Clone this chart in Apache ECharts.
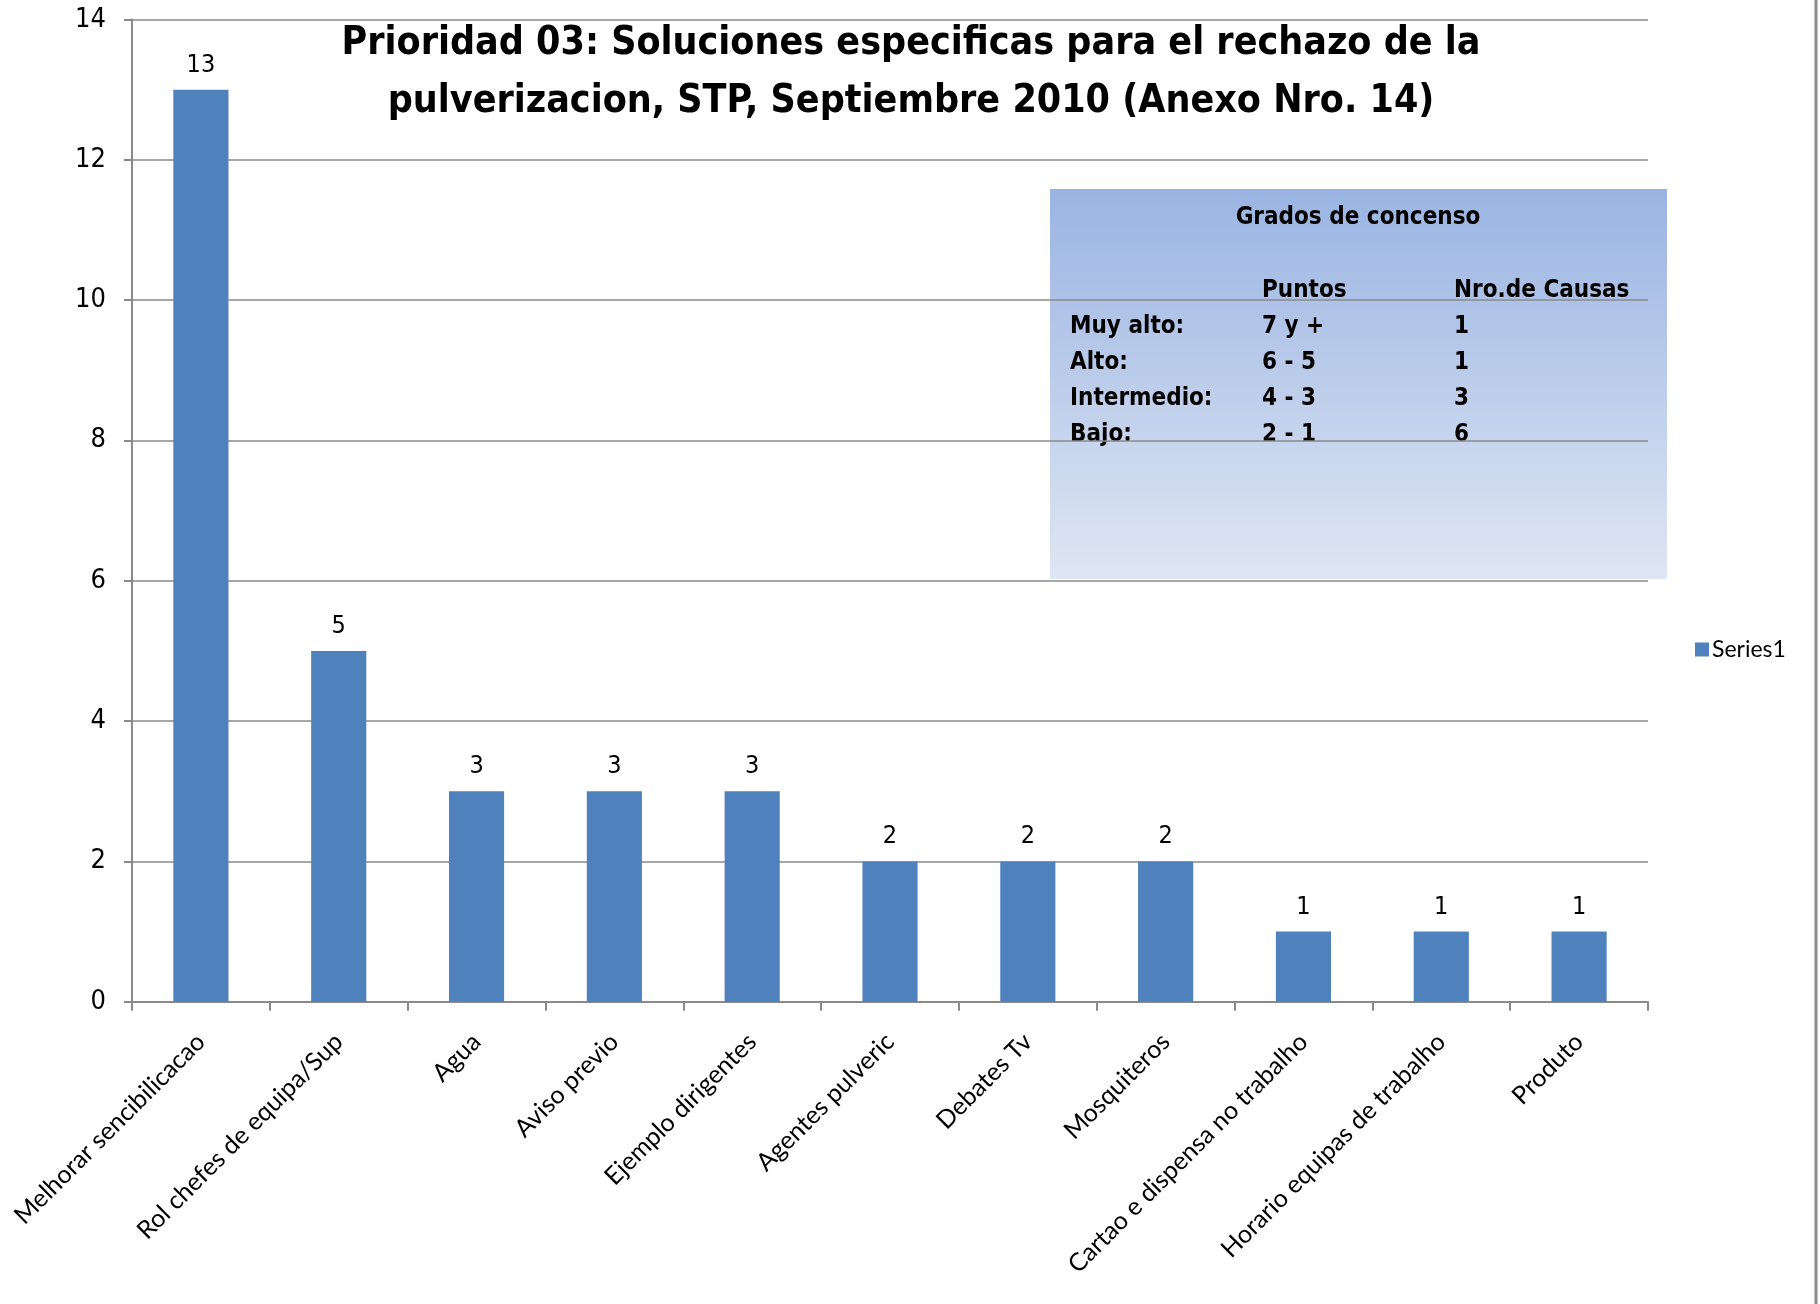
<!DOCTYPE html>
<html>
<head>
<meta charset="utf-8">
<script src="https://cdn.jsdelivr.net/npm/echarts@6/dist/echarts.min.js"></script>
<style>
  html, body { margin: 0; padding: 0; background: #fff; }
  #chart { width: 1820px; height: 1304px; }
</style>
</head>
<body>
<div id="chart"></div>
<script>
// Soluciones y puntos obtenidos
const categories = [
  'Melhorar sencibilicacao', 'Rol chefes de equipa/Sup', 'Agua', 'Aviso previo',
  'Ejemplo dirigentes', 'Agentes pulveric', 'Debates Tv', 'Mosquiteros',
  'Cartao e dispensa no trabalho', 'Horario equipas de trabalho', 'Produto'
];
const values = [13, 5, 3, 3, 3, 2, 2, 2, 1, 1, 1];
const seriesName = 'Series1';

const titleLines = [
  'Prioridad 03: Soluciones especificas para el rechazo de la',
  'pulverizacion, STP, Septiembre 2010 (Anexo Nro. 14)'
];

// Tabla de grados de concenso
const boxTitle = 'Grados de concenso';
const boxHeaders = ['Puntos', 'Nro.de Causas'];
const levels = ['Muy alto:', 'Alto:', 'Intermedio:', 'Bajo:'];
const points = ['7 y +', '6 - 5', '4 - 3', '2 - 1'];
const causes = ['1', '1', '3', '6'];

const narrow = "'Liberation Sans Narrow', 'DejaVu Sans Condensed', sans-serif";
const body = "Lato, 'Open Sans', sans-serif";
const grey = '#8a8a8a';

const boxX = 1050, boxY = 189, boxW = 617, boxH = 390;
const colX = [1070, 1262, 1454];
const rowY0 = 327, rowStep = 36;
const boxFont = 'bold 24px ' + narrow;

const boxTexts = [];
boxTexts.push({ type: 'text', style: { text: boxTitle, x: 1358, y: 218, align: 'center', verticalAlign: 'middle',
  font: boxFont, fill: '#000' } });
boxHeaders.forEach((h, i) => boxTexts.push({ type: 'text', style: { text: h, x: colX[i + 1], y: rowY0 - rowStep,
  verticalAlign: 'middle', font: boxFont, fill: '#000' } }));
levels.forEach((lv, r) => {
  [lv, points[r], causes[r]].forEach((t, c) => boxTexts.push({ type: 'text', style: { text: t, x: colX[c],
    y: rowY0 + r * rowStep, verticalAlign: 'middle', font: boxFont, fill: '#000' } }));
});

const chart = echarts.init(document.getElementById('chart'));
chart.setOption({
  animation: false,
  backgroundColor: '#fff',
  title: {
    text: titleLines.join('\n'),
    left: 906, top: 10, textAlign: 'center',
    textStyle: { fontFamily: narrow, fontWeight: 'bold', fontSize: 39, lineHeight: 58, color: '#000' }
  },
  legend: {
    data: [seriesName], orient: 'vertical', left: 1690, top: 633,
    itemWidth: 14, itemHeight: 14, itemGap: 4,
    icon: 'rect',
    textStyle: { fontFamily: body, fontSize: 23, color: '#000', padding: [0, 0, 0, -2] }
  },
  grid: { left: 132, right: 172, top: 19.5, bottom: 302.3, containLabel: false },
  xAxis: {
    type: 'category', data: categories,
    axisLine: { lineStyle: { color: grey, width: 2 } },
    axisTick: { show: true, length: 9, lineStyle: { color: grey, width: 2 } },
    axisLabel: { rotate: 45, margin: 36, interval: 0, fontFamily: body, fontSize: 25, color: '#000' }
  },
  yAxis: {
    type: 'value', min: 0, max: 14, interval: 2,
    axisLine: { show: true, lineStyle: { color: grey, width: 2 } },
    axisTick: { show: true, length: 8, lineStyle: { color: grey, width: 2 } },
    splitLine: { lineStyle: { color: grey, width: 1.5 } },
    axisLabel: { margin: 26, fontFamily: narrow, fontSize: 27, color: '#000' }
  },
  graphic: [
    { type: 'line', shape: { x1: 1816, y1: 0, x2: 1816, y2: 1304 }, style: { stroke: grey, lineWidth: 3 }, z: 5 },
    { type: 'group', z: 10, children: [
      { type: 'rect', shape: { x: boxX, y: boxY, width: boxW, height: boxH },
        style: { fill: new echarts.graphic.LinearGradient(0, 0, 0, 1, [
          { offset: 0, color: '#9ab4e2' }, { offset: 1, color: '#dfe6f3' }]) } }
    ].concat(boxTexts) }
  ],
  series: [{
    name: seriesName, type: 'bar', data: values,
    barCategoryGap: '60%',
    itemStyle: { color: '#4f81bd' },
    label: { show: true, position: 'top', distance: 12, fontFamily: narrow, fontSize: 25, color: '#000' }
  }]
});
</script>
</body>
</html>
